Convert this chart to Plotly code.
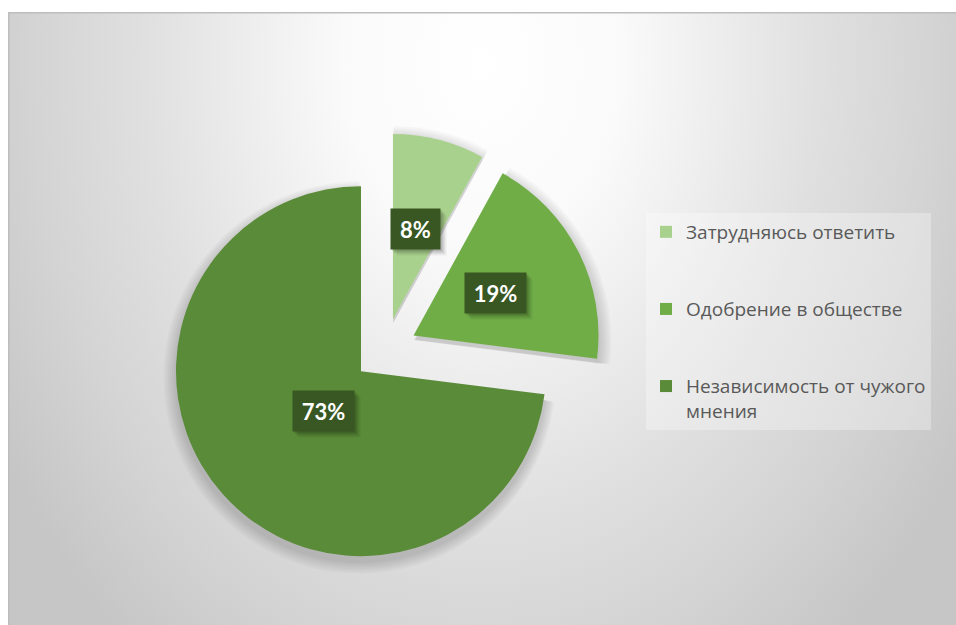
import base64, math
import plotly.graph_objects as go

# ---- data ----
labels = ["Затрудняюсь ответить", "Одобрение в обществе", "Независимость от чужого мнения"]
legend_names = ["Затрудняюсь ответить<br> <br> ", "Одобрение в обществе<br> <br> ", "Независимость от чужого<br>мнения"]
values = [8, 19, 73]
value_text = ["8%", "19%", "73%"]

# ---- style ----
W, H = 956, 625
colors = ["#a9d18e", "#70ad47", "#5a8b38"]
PULL = 0.173
CX, CY = 385, 350     # pie centre in px (from top-left of figure)
HALF = 217            # half size of pie box in px
dom_x = [(CX - HALF) / W, (CX + HALF) / W]
dom_y = [1 - (CY + HALF) / H, 1 - (CY - HALF) / H]
R = HALF / (1 + PULL)

fig = go.Figure()

# soft shadow layers below the pie
for k in range(6):
    e = 2 + 2.2 * k
    dy = 5
    fig.add_trace(go.Pie(
        values=values, labels=[l + " " for l in labels], sort=False, direction="clockwise",
        rotation=0, pull=[PULL] * 3, textinfo="none", hoverinfo="skip", showlegend=False,
        marker=dict(colors=["rgba(0,0,0,0.026)"] * 3, line=dict(width=0)),
        domain=dict(x=[(CX - HALF - e) / W, (CX + HALF + e) / W],
                    y=[1 - (CY + dy + HALF + e) / H, 1 - (CY + dy - HALF - e) / H]),
    ))

fig.add_trace(go.Pie(
    values=values, labels=legend_names, sort=False, direction="clockwise", rotation=0,
    pull=[PULL] * 3, textinfo="none", hoverinfo="percent",
    marker=dict(colors=colors, line=dict(width=0)),
    domain=dict(x=dom_x, y=dom_y),
))

# label boxes positioned from data (bisector of each slice)
total = sum(values)
cum = 0
anns = []
for v, t in zip(values, value_text):
    th = 2 * math.pi * (cum + v / 2) / total
    cum += v
    d = (PULL + 0.5) * R
    px = CX + d * math.sin(th)
    py = CY - d * math.cos(th)
    bw = 25 + 12 * len(t)
    common = dict(x=px / W, y=1 - py / H, xref="paper", yref="paper", showarrow=False,
                  width=bw, height=40, borderpad=0)
    for s, a in [(6, 0.06), (4, 0.1), (2, 0.14)]:
        anns.append(dict(common, text=" ", xshift=s, yshift=-s, bgcolor=f"rgba(0,0,0,{a})",
                         font=dict(family="Lato", size=22)))
    anns.append(dict(common, text=t, bgcolor="#385723",
                     font=dict(family="Lato", size=22, color="white", weight="bold")))

# radial gradient background
x0px, y0px = 8, 12
bw_, bh_ = W - x0px, H - y0px
svg = (f"<svg xmlns='http://www.w3.org/2000/svg' width='{bw_}' height='{bh_}' viewBox='0 0 {bw_} {bh_}' preserveAspectRatio='none'>"
       "<defs><radialGradient id='g' gradientUnits='userSpaceOnUse' cx='0' cy='0' r='1' "
       "gradientTransform='translate(474,50) scale(560,750)'>"
       "<stop offset='0' stop-color='#ffffff'/><stop offset='0.25' stop-color='#fafafa'/>"
       "<stop offset='0.6' stop-color='#e0e0e0'/><stop offset='0.8' stop-color='#d4d4d4'/>"
       "<stop offset='1' stop-color='#c6c6c6'/></radialGradient></defs>"
       f"<rect x='0' y='0' width='{bw_}' height='{bh_}' fill='url(#g)'/></svg>")
uri = "data:image/svg+xml;base64," + base64.b64encode(svg.encode()).decode()

fig.update_layout(
    width=W, height=H, margin=dict(l=0, r=0, t=0, b=0),
    paper_bgcolor="white", plot_bgcolor="white",
    images=[dict(source=uri, xref="paper", yref="paper", x=x0px / W, y=1 - y0px / H,
                 sizex=bw_ / W, sizey=bh_ / H, sizing="stretch", layer="below",
                 xanchor="left", yanchor="top")],
    shapes=[dict(type="rect", xref="paper", yref="paper", x0=(x0px + 0.75) / W, x1=1.01,
                 y0=-0.01, y1=1 - (y0px + 0.75) / H,
                 line=dict(color="#bdbdbd", width=1.5), layer="above")],
    annotations=anns,
    legend=dict(x=646 / W, y=1 - 213 / H, xanchor="left", yanchor="top",
                bgcolor="rgba(255,255,255,0.3)", valign="top",
                font=dict(family="Open Sans", size=19, color="#595959")),
    showlegend=True,
)

fig.write_html("out.html", config={"displayModeBar": False},
               post_script="document.body.style.margin='0';document.body.style.overflow='hidden';")
